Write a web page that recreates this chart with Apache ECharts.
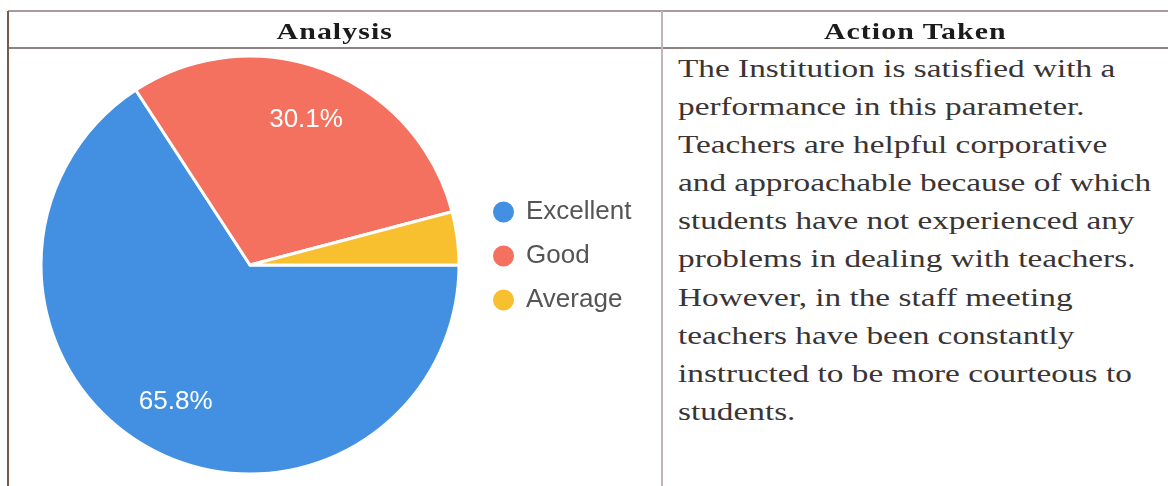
<!DOCTYPE html>
<html lang="en">
<head>
    <meta charset="UTF-8">
    <title>Analysis / Action Taken</title>
    <script src="https://cdn.jsdelivr.net/npm/echarts@6/dist/echarts.min.js"></script>
    <style>
        body {
            margin: 0;
            background: #fff;
        }

        .page {
            position: relative;
            width: 1168px;
            height: 486px;
            overflow: hidden;
            background: #fff;
        }

        .hline, .vline {
            position: absolute;
        }

        .hline {
            height: 2px;
            left: 8px;
            right: 0;
        }

        .vline {
            width: 2px;
            top: 11px;
            bottom: 0;
        }

        .head {
            position: absolute;
            top: 17px;
            height: 30px;
            line-height: 30px;
            font-family: "Liberation Serif", "Times New Roman", serif;
            font-weight: bold;
            font-size: 23px;
            color: #1d1a1a;
            letter-spacing: 0.8px;
            text-align: center;
        }

        .head span {
            display: inline-block;
            transform: scaleX(1.3);
        }

        .action {
            position: absolute;
            left: 678px;
            top: 50px;
            font-family: "Liberation Serif", "Times New Roman", serif;
            font-size: 26px;
            line-height: 38.1px;
            color: #3a3434;
            white-space: nowrap;
            transform: scaleX(1.28);
            transform-origin: left top;
        }

        #mychart {
            position: absolute;
            left: 0;
            top: 0;
            width: 662px;
            height: 486px;
        }
    </style>
</head>
<body>
<div class="page">
    <div id="mychart"></div>

    <div class="hline" style="top:10px;background:#a99b9c;"></div>
    <div class="hline" style="top:47px;background:#8f8283;"></div>
    <div class="vline" style="left:7px;background:#76594b;"></div>
    <div class="vline" style="left:661px;background:#c2b3b6;"></div>

    <div class="head" style="left:9px;width:652px;"><span>Analysis</span></div>
    <div class="head" style="left:663px;width:505px;"><span>Action Taken</span></div>

    <div class="action">
        The Institution is satisfied with a<br>
        performance in this parameter.<br>
        Teachers are helpful corporative<br>
        and approachable because of which<br>
        students have not experienced any<br>
        problems in dealing with teachers.<br>
        However, in the staff meeting<br>
        teachers have been constantly<br>
        instructed to be more courteous to<br>
        students.
    </div>
</div>

<script type="text/javascript">
    // 数据
    var categories = ['Excellent', 'Good', 'Average'];
    var values = [65.8, 30.1, 4.1];
    var colors = ['#4390e3', '#f4705f', '#f8bf2f'];

    var myChart = echarts.init(document.getElementById('mychart'));

    var pieData = categories.map(function (name, i) {
        return {name: name, value: values[i]};
    });
    // 小扇区不显示百分比
    var labelData = categories.map(function (name, i) {
        return {name: name, value: values[i], label: {show: values[i] >= 5}};
    });

    var option = {
        animation: false,
        color: colors,
        legend: {
            orient: 'vertical',
            left: 486,
            top: 194,
            icon: 'circle',
            itemWidth: 23,
            itemHeight: 23,
            itemGap: 18,
            data: categories,
            textStyle: {
                fontFamily: 'Liberation Sans, Arial, sans-serif',
                fontSize: 26,
                lineHeight: 26,
                color: '#555',
                padding: [0, 0, 0, 6]
            }
        },
        series: [
            {
                name: 'Analysis',
                type: 'pie',
                center: [250, 265],
                radius: 209,
                startAngle: 0,
                clockwise: true,
                percentPrecision: 1,
                itemStyle: {
                    borderColor: '#fff',
                    borderWidth: 3
                },
                label: {show: false},
                labelLine: {show: false},
                emphasis: {disabled: true},
                data: pieData
            },
            {
                // 只用来放置百分比标签
                name: 'labels',
                type: 'pie',
                center: [250, 265],
                radius: [97, 209],
                startAngle: 0,
                clockwise: true,
                silent: true,
                percentPrecision: 1,
                itemStyle: {
                    color: 'rgba(0,0,0,0)',
                    borderWidth: 0
                },
                label: {
                    position: 'inside',
                    formatter: '{d}%',
                    color: '#fff',
                    fontFamily: 'Liberation Sans, Arial, sans-serif',
                    fontSize: 26
                },
                labelLine: {show: false},
                emphasis: {disabled: true},
                data: labelData
            }
        ]
    };
    myChart.setOption(option);
</script>
</body>
</html>
